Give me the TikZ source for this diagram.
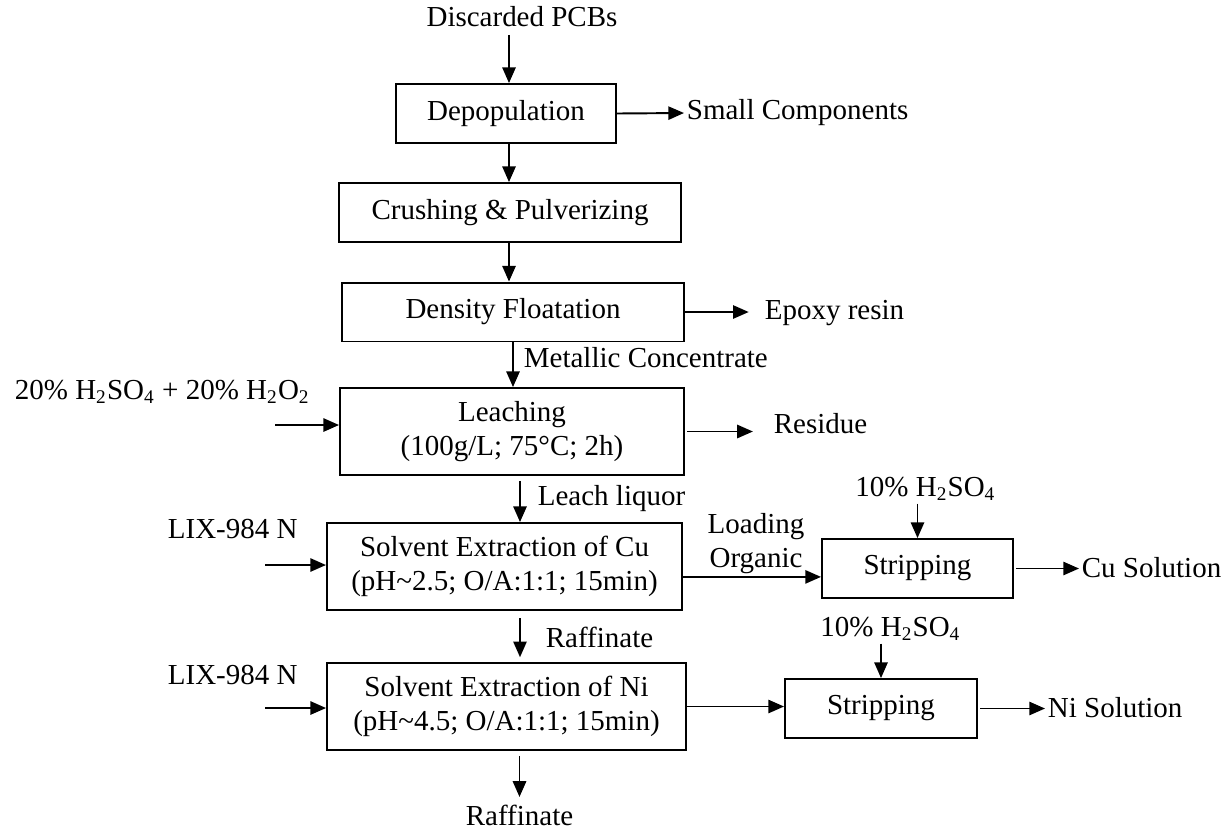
\documentclass[tikz,border=0pt]{standalone}
\usepackage{fontspec}
\setmainfont{Liberation Serif}
\usetikzlibrary{calc, positioning, arrows.meta}

\begin{document}
\begin{tikzpicture}[
    x=0.414pt, y=-0.414pt,
    every node/.style={font=\fontsize{12}{13.8}\selectfont, text=black, inner sep=1pt},
    box/.style={draw, line width=0.8pt, align=center, minimum height=#1},
    box/.default=24.4pt,
    lbl/.style={anchor=west},
    arr/.style={line width=0.8pt, -{Triangle[length=6.5pt, width=5.5pt]}}
  ]
    \useasboundingbox (0,0) rectangle (1231,834);
    \coordinate (spine) at (509,0);
    \coordinate (trunk) at (520,0);

    % main column
    \node (pcb) at (522,17) {Discarded PCBs};
    \node[box, minimum width=91.1pt] (depop) at (506,113.5) {Depopulation};
    \node[box, minimum width=141.6pt] (crush) at (510,212.5) {Crushing \& Pulverizing};
    \node[box, minimum width=141.6pt] (dens) at (513,312) {Density Floatation};
    \node[box=36pt, minimum width=142.4pt] (leach) at (512,431.5) {Leaching\\(100g/L; 75°C; 2h)};
    \node[box=36pt, minimum width=147pt] (secu) at (504.5,566.5) {Solvent Extraction of Cu\\(pH\textasciitilde2.5; O/A:1:1; 15min)};
    \node[box=36pt, minimum width=148.6pt] (seni) at (506.5,706.5) {Solvent Extraction of Ni\\(pH\textasciitilde4.5; O/A:1:1; 15min)};
    \node (raff2) at (519.5,815) {Raffinate};

    % stripping
    \node[box, minimum width=79.1pt] (stcu) at (917.5,568.5) {Stripping};
    \node[box, minimum width=79.5pt] (stni) at (881,708.5) {Stripping};

    % side labels
    \node[lbl] (small) at (684,113) {Small Components};
    \node[lbl] (epoxy) at (762,313) {Epoxy resin};
    \node[lbl] (metal) at (521,358) {Metallic Concentrate};
    \node[lbl] (chem) at (12,392) {20\% H\textsubscript{2}SO\textsubscript{4} + 20\% H\textsubscript{2}O\textsubscript{2}};
    \node[lbl] (residue) at (771,424) {Residue};
    \node[lbl] (liquor) at (535,499) {Leach liquor};
    \node[lbl] (lix1) at (165,529) {LIX-984 N};
    \node[align=center] (loadorg) at (756,543.5) {Loading\\Organic};
    \node (acid1) at (925.5,489) {10\% H\textsubscript{2}SO\textsubscript{4}};
    \node[lbl] (cusol) at (1079,568) {Cu Solution};
    \node[lbl] (raff1) at (543,637) {Raffinate};
    \node[lbl] (lix2) at (165,675) {LIX-984 N};
    \node (acid2) at (890.5,629) {10\% H\textsubscript{2}SO\textsubscript{4}};
    \node[lbl] (nisol) at (1045,708) {Ni Solution};

    \coordinate (feed1) at (275,425);
    \coordinate (feed2) at (265,565);
    \coordinate (feed3) at (265,708);

    % Connecting arrows
    \draw[arr] ([yshift=-2pt]pcb.south -| spine) -- (depop.north -| spine);
    \draw[arr] (depop.south -| spine) -- (crush.north -| spine);
    \draw[arr] (crush.south -| spine) -- (dens.north -| spine);
    \draw[arr] (dens.south) -- (leach.north -| dens.south);
    \draw[arr, shorten <=2pt] (leach.south -| trunk) -- (secu.north -| trunk);
    \draw[arr, shorten <=3pt, shorten >=2pt] (secu.south -| trunk) -- (seni.north -| trunk);
    \draw[arr, shorten <=2pt, shorten >=2pt] (seni.south -| raff2.north) -- (raff2.north);

    \draw[arr] (depop.east) -- (small.west);
    \draw[arr, shorten >=5.5pt] (dens.east) -- (epoxy.west |- dens.east);
    \draw[arr, shorten <=1pt, shorten >=7.5pt] (leach.east) -- (leach.east -| residue.west);
    \draw[arr] (feed1) -- (feed1 -| leach.west);
    \draw[arr] (feed2) -- (feed2 -| secu.west);
    \draw[arr] (feed3) -- (feed3 -| seni.west);
    \draw[arr] ([yshift=-4.3pt]secu.east) -- ([yshift=-4.3pt]secu.east -| stcu.west);
    \draw[arr] (seni.east) -- (seni.east -| stni.west);
    \draw[arr] (acid1.south -| stcu.north) -- (stcu.north);
    \draw[arr] (acid2.south -| stni.north) -- (stni.north);
    \draw[arr, shorten <=1pt] (stcu.east) -- (stcu.east -| cusol.west);
    \draw[arr, shorten <=1pt] (stni.east) -- (stni.east -| nisol.west);
\end{tikzpicture}
\end{document}
